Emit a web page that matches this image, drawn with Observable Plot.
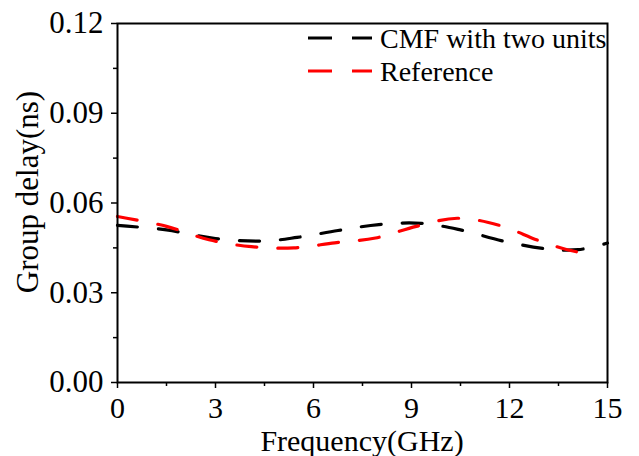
<!DOCTYPE html>
<html>
<head>
<meta charset="utf-8">
<script src="https://cdn.jsdelivr.net/npm/d3@7"></script>
<script src="https://cdn.jsdelivr.net/npm/@observablehq/plot@0.6"></script>
<style>
  html, body { margin: 0; padding: 0; background: #fff; }
  #chart { width: 639px; height: 456px; }
  #chart svg, #chart svg text { font-family: "Liberation Serif" !important; }
</style>
</head>
<body>
<div id="chart"></div>
<script>
const cmfFreq = [0, 1.5, 3, 4.5, 5.5, 6.75, 8, 9.3, 10.5, 11.8, 13.1, 14.1, 15];
const cmfDelay = [0.0525, 0.0510, 0.0481, 0.0473, 0.0485, 0.0508, 0.0528, 0.0532, 0.0510, 0.0473, 0.0447, 0.0444, 0.0466];
const refFreq = [0, 1.5, 2.8, 4.1, 5.4, 6.65, 7.9, 9.15, 10.4, 11.7, 12.9, 13.8, 14.6];
const refDelay = [0.0555, 0.0522, 0.0477, 0.0454, 0.0450, 0.0467, 0.0483, 0.0522, 0.0549, 0.0525, 0.0474, 0.0443, 0.0426];
const seriesNames = ["CMF with two units", "Reference"];
const seriesColors = ["#000000", "#ff0000"];
const xTicks = [0, 3, 6, 9, 12, 15];
const xMinor = [1.5, 4.5, 7.5, 10.5, 13.5];
const yTicks = [0, 0.03, 0.06, 0.09, 0.12];
const yMinor = [0.015, 0.045, 0.075, 0.105];

const cmf = cmfFreq.map((f, i) => ({f, d: cmfDelay[i]}));
const ref = refFreq.map((f, i) => ({f, d: refDelay[i]}));

const font = "Liberation Serif";

const plot = Plot.plot({
  width: 639,
  height: 456,
  marginLeft: 117,
  marginRight: 32,
  marginTop: 23,
  marginBottom: 74,
  style: {fontFamily: font, fontSize: "30px", color: "#000", background: "#fff"},
  x: {domain: [0, 15], label: null},
  y: {domain: [0, 0.12], label: null},
  marks: [
    Plot.axisX(xTicks, {tickSize: 6, tickPadding: 8, tickFormat: d => String(d), fontSize: 30, strokeWidth: 1.5}),
    Plot.axisX(xMinor, {tickSize: 4, tickFormat: () => "", strokeWidth: 1.5}),
    Plot.axisY(yTicks, {tickSize: 6, tickPadding: 8, tickFormat: d3.format(".2f"), fontSize: 31, strokeWidth: 1.5}),
    Plot.axisY(yMinor, {tickSize: 4, tickFormat: () => "", strokeWidth: 1.5}),
    Plot.line(cmf, {x: "f", y: "d", stroke: seriesColors[0], strokeWidth: 3.2, strokeDasharray: "20,21", curve: "catmull-rom"}),
    Plot.line(ref, {x: "f", y: "d", stroke: seriesColors[1], strokeWidth: 3.2, strokeDasharray: "20,21", curve: "catmull-rom"}),
    Plot.frame({stroke: "#000", strokeWidth: 2})
  ]
});

const svg = d3.select(plot);
svg.append("text")
  .attr("x", 362).attr("y", 451)
  .attr("text-anchor", "middle")
  .attr("font-family", font).attr("font-size", 30)
  .text("Frequency(GHz)");
svg.append("text")
  .attr("transform", "translate(38,192) rotate(-90)")
  .attr("text-anchor", "middle")
  .attr("font-family", font).attr("font-size", 31)
  .text("Group delay(ns)");
const legY = [38, 71];
seriesNames.forEach((name, i) => {
  svg.append("line")
    .attr("x1", 308).attr("x2", 372)
    .attr("y1", legY[i]).attr("y2", legY[i])
    .attr("stroke", seriesColors[i]).attr("stroke-width", 3.2)
    .attr("stroke-dasharray", "24,20");
  svg.append("text")
    .attr("x", 380).attr("y", legY[i] + 10)
    .attr("text-anchor", "start")
    .attr("font-family", font).attr("font-size", 28)
    .text(name);
});

document.getElementById("chart").appendChild(plot);
</script>
</body>
</html>
